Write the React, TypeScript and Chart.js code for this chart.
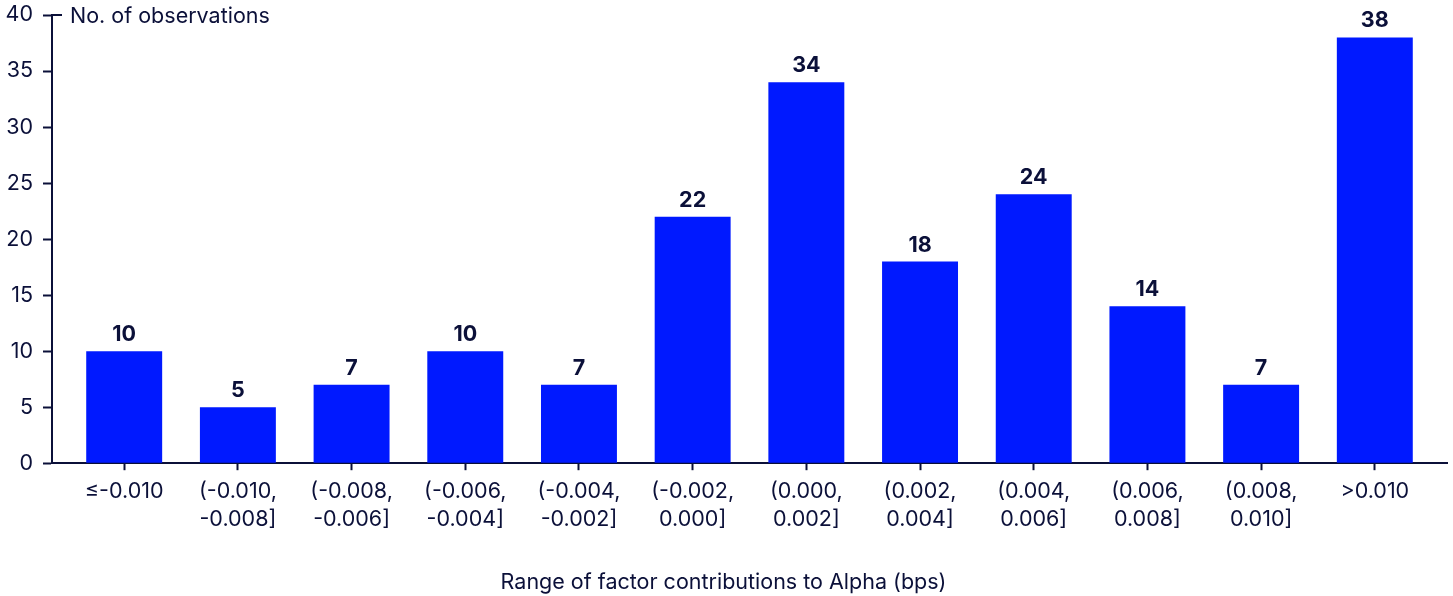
import { useEffect, useRef } from 'react';
import { Chart, registerables } from 'chart.js';

Chart.register(...registerables);

const categories: string[][] = [
  ['≤-0.010'],
  ['(-0.010,', '-0.008]'],
  ['(-0.008,', '-0.006]'],
  ['(-0.006,', '-0.004]'],
  ['(-0.004,', '-0.002]'],
  ['(-0.002,', '0.000]'],
  ['(0.000,', '0.002]'],
  ['(0.002,', '0.004]'],
  ['(0.004,', '0.006]'],
  ['(0.006,', '0.008]'],
  ['(0.008,', '0.010]'],
  ['>0.010'],
];
const observations = [10, 5, 7, 10, 7, 22, 34, 18, 24, 14, 7, 38];
const yTicks = [0, 5, 10, 15, 20, 25, 30, 35, 40];
const yTitle = 'No. of observations';
const xTitle = 'Range of factor contributions to Alpha (bps)';

const INK = '#0b1039';
const BAR = '#0019FF';
const FONT = 'Inter, "Noto Sans", sans-serif';
const FS = 21.5;

const overlayPlugin = {
  id: 'overlay',
  afterDatasetsDraw(chart: any) {
    const { ctx, chartArea, scales } = chart;
    const y = scales.y;
    const topPx = y.getPixelForValue(yTicks[yTicks.length - 1]);
    ctx.save();
    // small right-hand tick at the top of the y axis
    ctx.strokeStyle = INK;
    ctx.lineWidth = 2;
    ctx.beginPath();
    ctx.moveTo(chartArea.left, topPx);
    ctx.lineTo(chartArea.left + 10, topPx);
    ctx.stroke();
    // y-axis title
    ctx.fillStyle = INK;
    ctx.font = `${FS}px ${FONT}`;
    ctx.textAlign = 'left';
    ctx.textBaseline = 'middle';
    ctx.fillText(yTitle, chartArea.left + 18, topPx + 2);
    // value labels
    ctx.font = `bold ${FS}px ${FONT}`;
    ctx.textAlign = 'center';
    ctx.textBaseline = 'alphabetic';
    const meta = chart.getDatasetMeta(0);
    meta.data.forEach((bar: any, i: number) => {
      ctx.fillText(String(observations[i]), bar.x, bar.y - 10);
    });
    ctx.restore();
  },
};

export default function App() {
  const ref = useRef<HTMLCanvasElement | null>(null);

  useEffect(() => {
    document.body.style.margin = '0';
    if (!ref.current) return;
    const chart = new Chart(ref.current, {
      type: 'bar',
      data: {
        datasets: [
          {
            data: observations.map((v, i) => ({ x: i, y: v })),
            backgroundColor: BAR,
            borderWidth: 0,
            barPercentage: 0.668,
            categoryPercentage: 1,
          },
        ],
      },
      options: {
        animation: false,
        responsive: false,
        maintainAspectRatio: false,
        devicePixelRatio: 1,
        layout: { padding: { left: 0, right: 6, top: 15, bottom: 0 } },
        plugins: {
          legend: { display: false },
          tooltip: { enabled: false },
          title: {
            display: true,
            text: xTitle,
            position: 'bottom',
            color: INK,
            font: { family: FONT, size: FS, weight: 'normal' },
            padding: { top: 0, bottom: 1 },
          },
        },
        scales: {
          x: {
            type: 'linear',
            offset: false,
            min: -0.635,
            max: categories.length - 1 + 0.635,
            afterBuildTicks: (scale: any) => {
              scale.ticks = categories.map((_, i) => ({ value: i }));
            },
            afterFit: (scale: any) => {
              scale.height = 106;
              scale.paddingLeft = 0;
              scale.paddingRight = 0;
            },
            border: { display: true, color: INK, width: 2 },
            grid: {
              offset: false,
              drawOnChartArea: false,
              drawTicks: true,
              tickLength: 7,
              tickWidth: 2,
              tickColor: INK,
            },
            ticks: {
              autoSkip: false,
              maxRotation: 0,
              minRotation: 0,
              padding: 7,
              color: INK,
              font: { family: FONT, size: FS, lineHeight: 28.5 / FS },
              callback: (value: any) => categories[Math.round(Number(value))] ?? '',
            },
          },
          y: {
            min: 0,
            max: 40,
            afterBuildTicks: (scale: any) => {
              scale.ticks = yTicks.map((v) => ({ value: v }));
            },
            afterFit: (scale: any) => {
              scale.width = 52;
              scale.paddingTop = 0;
              scale.paddingBottom = 0;
            },
            border: { display: true, color: INK, width: 2 },
            grid: {
              drawOnChartArea: false,
              drawTicks: true,
              tickLength: 9,
              tickWidth: 2,
              tickColor: INK,
            },
            ticks: {
              padding: 10,
              color: INK,
              font: { family: FONT, size: FS },
            },
          },
        },
      },
      plugins: [overlayPlugin],
    });
    return () => chart.destroy();
  }, []);

  return (
    <div style={{ position: 'fixed', left: 0, top: 0, width: 1453, height: 596 }}>
      <canvas ref={ref} width={1453} height={596} style={{ width: 1453, height: 596 }} />
    </div>
  );
}
